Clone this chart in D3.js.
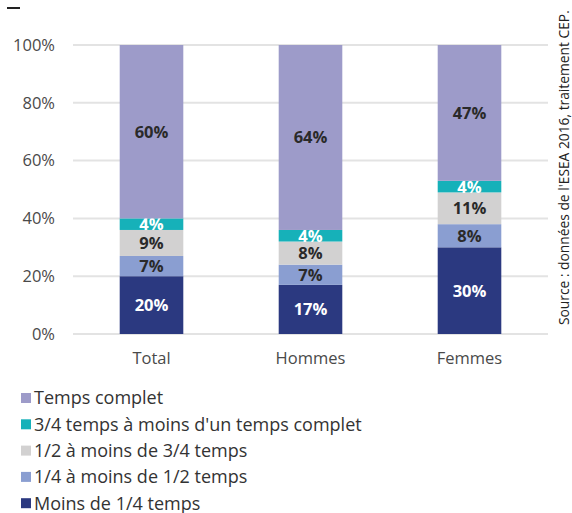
<!DOCTYPE html>
<html>
<head>
<meta charset="utf-8">
<script src="https://cdn.jsdelivr.net/npm/d3@7"></script>
<style>
  body { margin: 0; background: #fff; }
  svg { font-family: "Open Sans", "Noto Sans", sans-serif; }
</style>
</head>
<body>
<div id="chart"></div>
<script>
// data
const categories = ['Total', 'Hommes', 'Femmes'];
const seriesNames = ['Moins de 1/4 temps', '1/4 à moins de 1/2 temps', '1/2 à moins de 3/4 temps',
  "3/4 temps à moins d'un temps complet", 'Temps complet'];
const moinsQuart = [20, 17, 30];
const quartDemi = [7, 7, 8];
const demiTroisQuarts = [9, 8, 11];
const troisQuartsComplet = [4, 4, 4];
const tempsComplet = [60, 64, 47];
const yTicks = [0, 20, 40, 60, 80, 100];
const sourceText = "Source : données de l'ESEA 2016, traitement CEP.";

const colors = ['#2b3980', '#8a9ed1', '#d2d1d1', '#16b1b9', '#9d9bc9'];
const labelColors = ['#fff', '#2a2a2a', '#2a2a2a', '#fff', '#2a2a2a'];

let width = 572, height = 513;

let svg = d3.select('#chart').append('svg')
  .attr('width', width).attr('height', height);

let seriesValues = [moinsQuart, quartDemi, demiTroisQuarts, troisQuartsComplet, tempsComplet];
let rows = categories.map((c, i) => {
  let r = {cat: c};
  seriesNames.forEach((s, j) => { r[s] = seriesValues[j][i]; });
  return r;
});
let stacked = d3.stack().keys(seriesNames)(rows);

let x = d3.scaleBand().domain(categories).range([72, 549])
  .paddingInner(0.6).paddingOuter(0.3);
let y = d3.scaleLinear().domain([0, 100]).range([334, 45]);

// top-left dash
svg.append('line')
  .attr('x1', 7).attr('x2', 20).attr('y1', 8).attr('y2', 8)
  .attr('stroke', '#222').attr('stroke-width', 2);

// grid
svg.append('g').selectAll('line')
  .data(yTicks).join('line')
  .attr('x1', 73).attr('x2', 548)
  .attr('y1', d => y(d)).attr('y2', d => y(d))
  .attr('stroke', '#e3e3e3').attr('stroke-width', 2);

svg.append('g').selectAll('text')
  .data(yTicks).join('text')
  .attr('x', 55).attr('y', d => y(d))
  .attr('dy', '0.35em')
  .attr('text-anchor', 'end')
  .attr('font-size', 16.5)
  .attr('fill', '#4a4a4a')
  .text(d => d + '%');

// bars
let layers = svg.append('g').selectAll('g')
  .data(stacked).join('g')
  .attr('fill', (d, i) => colors[i]);

layers.selectAll('rect')
  .data(d => d).join('rect')
  .attr('x', d => x(d.data.cat))
  .attr('width', x.bandwidth())
  .attr('y', d => y(d[1]))
  .attr('height', d => y(d[0]) - y(d[1]));

layers.each(function(layer, i) {
  d3.select(this).selectAll('text')
    .data(layer).join('text')
    .attr('x', d => x(d.data.cat) + x.bandwidth() / 2)
    .attr('y', d => (y(d[0]) + y(d[1])) / 2)
    .attr('dy', '0.36em')
    .attr('text-anchor', 'middle')
    .attr('font-size', 16.5)
    .attr('font-weight', 'bold')
    .attr('fill', labelColors[i])
    .text(d => (d[1] - d[0]) + '%');
});

// x labels
svg.append('g').selectAll('text')
  .data(categories).join('text')
  .attr('x', d => x(d) + x.bandwidth() / 2)
  .attr('y', 364)
  .attr('text-anchor', 'middle')
  .attr('font-size', 16.5)
  .attr('fill', '#4a4a4a')
  .text(d => d);

// source
svg.append('text')
  .attr('transform', 'translate(569,325) rotate(-90)')
  .attr('font-size', 13.8)
  .attr('fill', '#222')
  .text(sourceText);

// legend (reverse order)
let legendItems = seriesNames.map((s, i) => ({name: s, color: colors[i]})).reverse();
let legend = svg.append('g').selectAll('g')
  .data(legendItems).join('g')
  .attr('transform', (d, i) => 'translate(21,' + (398 + i * 26.3) + ')');

legend.append('rect')
  .attr('x', 0).attr('y', -5).attr('width', 10).attr('height', 10)
  .attr('fill', d => d.color);

legend.append('text')
  .attr('x', 13).attr('dy', '0.35em')
  .attr('font-size', 18)
  .attr('fill', '#333')
  .text(d => d.name);
</script>
</body>
</html>
